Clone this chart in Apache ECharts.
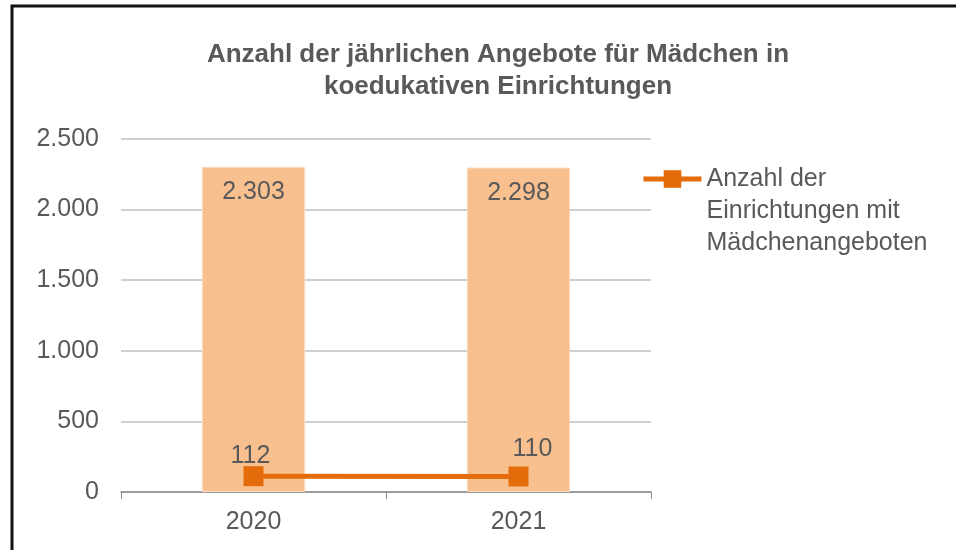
<!DOCTYPE html>
<html>
<head>
<meta charset="utf-8">
<script src="https://cdn.jsdelivr.net/npm/echarts@6/dist/echarts.min.js"></script>
<style>
  html, body { margin: 0; padding: 0; background: #fff; }
  #chart { width: 956px; height: 550px; }
</style>
</head>
<body>
<div id="chart"></div>
<script>
var years = ['2020', '2021'];
var angebote = [2303, 2298];
var einrichtungen = [112, 110];
var yTicks = [0, 500, 1000, 1500, 2000, 2500];

function fmt(v) {
    return String(v).replace(/\B(?=(\d{3})+(?!\d))/g, '.');
}

var textColor = '#595959';
var lineName = 'Anzahl der\nEinrichtungen mit\nMädchenangeboten';
var chart = echarts.init(document.getElementById('chart'));
var option = {
    animation: false,
    textStyle: { fontFamily: 'Liberation Sans, Arial, sans-serif' },
    title: {
        text: 'Anzahl der jährlichen Angebote für Mädchen in\nkoedukativen Einrichtungen',
        left: 493,
        top: 34,
        textAlign: 'center',
        textStyle: {
            color: textColor,
            fontSize: 26,
            fontWeight: 'bold',
            lineHeight: 32
        }
    },
    graphic: [{
        type: 'rect',
        shape: { x: 12, y: 6, width: 980, height: 600 },
        style: { fill: 'none', stroke: '#111', lineWidth: 3 }
    }],
    legend: {
        data: [lineName],
        left: 636,
        top: 94,
        itemWidth: 58,
        itemHeight: 22,
        itemGap: 0,
        lineStyle: { width: 5 },
        formatter: function (n) { return '\n\n' + n; },
        textStyle: { color: textColor, fontSize: 25, lineHeight: 32 }
    },
    grid: { left: 121, right: 305, top: 139, bottom: 58 },
    xAxis: {
        type: 'category',
        data: years,
        axisLine: { lineStyle: { color: '#8c8c8c', width: 1.5 } },
        axisTick: { show: true, length: 7, lineStyle: { color: '#8c8c8c' } },
        axisLabel: { color: textColor, fontSize: 25, margin: 18 }
    },
    yAxis: {
        type: 'value',
        min: 0,
        max: 2500,
        interval: 500,
        axisLine: { show: false },
        axisTick: { show: false },
        splitLine: { lineStyle: { color: '#bfbfbf', width: 1.5 } },
        axisLabel: {
            color: textColor,
            fontSize: 25,
            margin: 22,
            formatter: function (v) { return yTicks.indexOf(v) >= 0 ? fmt(v) : ''; }
        }
    },
    series: [
        {
            name: 'Angebote',
            type: 'bar',
            data: angebote,
            barWidth: '39%',
            itemStyle: { color: '#F9C08F', borderColor: '#FCDCC0', borderWidth: 1 },
            label: {
                show: true,
                position: 'insideTop',
                distance: 13,
                color: textColor,
                fontSize: 25,
                formatter: function (p) { return fmt(p.value); }
            }
        },
        {
            name: lineName,
            type: 'line',
            data: einrichtungen.map(function (v, i) {
                return { value: v, label: { offset: i === 0 ? [-3, 3] : [14, -4] } };
            }),
            symbol: 'rect',
            symbolSize: 20,
            lineStyle: { color: '#E46C0A', width: 5 },
            itemStyle: { color: '#E46C0A' },
            label: {
                show: true,
                position: 'top',
                distance: 1,
                color: textColor,
                fontSize: 25
            }
        }
    ]
};
chart.setOption(option);
</script>
</body>
</html>
